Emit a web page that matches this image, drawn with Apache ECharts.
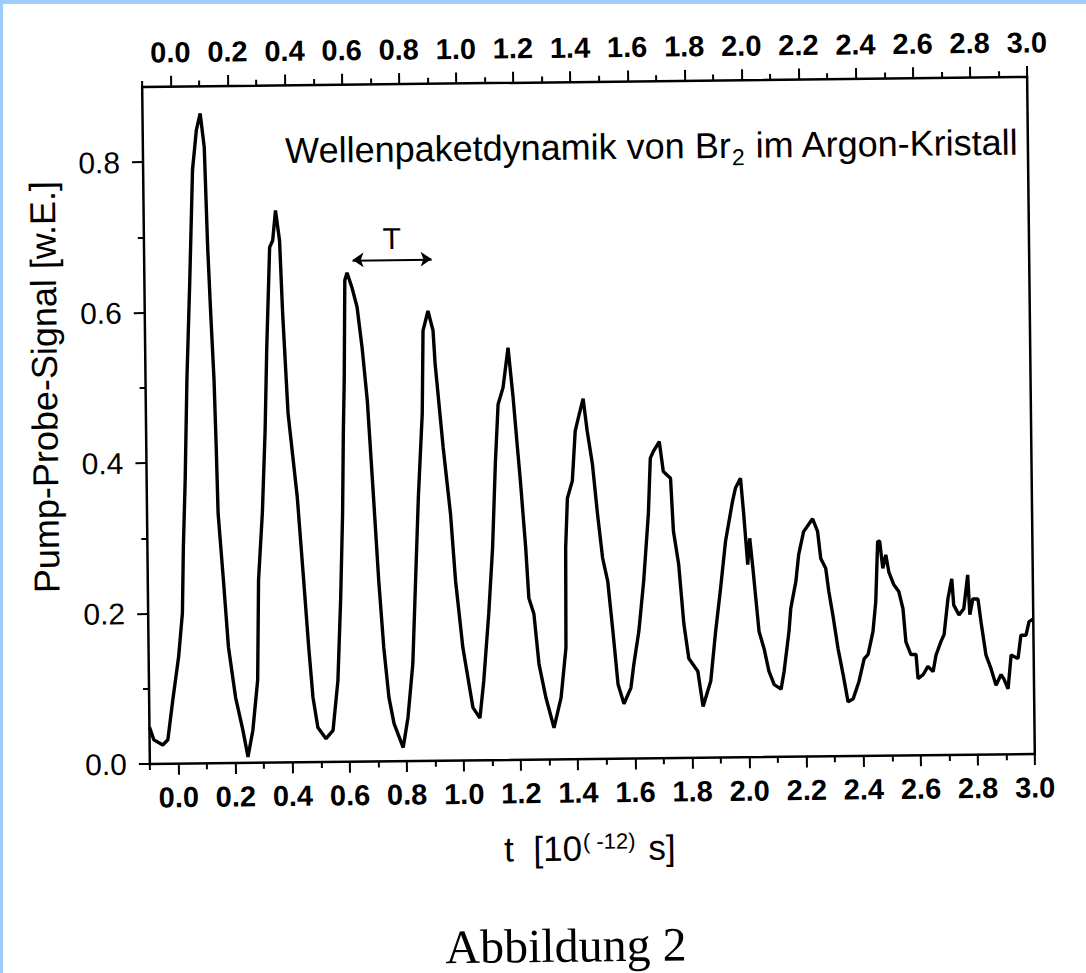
<!DOCTYPE html>
<html>
<head>
<meta charset="utf-8">
<script src="https://cdn.jsdelivr.net/npm/echarts@6/dist/echarts.min.js"></script>
<style>
  html, body { margin: 0; padding: 0; background: #fff; overflow: hidden; }
  /* the scanned page is slightly tilted, so the whole figure is turned a little */
  #chart { position: absolute; left: 0; top: 0; width: 1086px; height: 973px;
           transform: rotate(-0.65deg); transform-origin: 588px 421px; }
  .edge { position: fixed; background: #9ccdfc; z-index: 5; }
</style>
</head>
<body>
<div id="chart"></div>
<div class="edge" style="left:0;top:0;width:1086px;height:4px"></div>
<div class="edge" style="left:0;top:0;width:3px;height:973px"></div>
<script>
// Zeit t in ps (10^-12 s)
const tValues = [
  -0.100, -0.085, -0.054, -0.036, -0.017, 0.005, 0.020, 0.026, 0.035, 0.045,
  0.059, 0.073, 0.088, 0.102, 0.115, 0.123, 0.131, 0.140, 0.145, 0.149,
  0.165, 0.180, 0.203, 0.227, 0.244, 0.262, 0.281, 0.288, 0.304, 0.317,
  0.326, 0.340, 0.351, 0.362, 0.375, 0.383, 0.398, 0.427, 0.446, 0.461,
  0.474, 0.490, 0.518, 0.543, 0.562, 0.575, 0.585, 0.591, 0.596, 0.602,
  0.610, 0.627, 0.644, 0.660, 0.676, 0.694, 0.709, 0.724, 0.740, 0.757,
  0.788, 0.806, 0.825, 0.838, 0.851, 0.868, 0.874, 0.892, 0.909, 0.915,
  0.940, 0.963, 0.978, 1.001, 1.034, 1.058, 1.073, 1.093, 1.109, 1.122,
  1.134, 1.152, 1.171, 1.187, 1.200, 1.209, 1.225, 1.234, 1.251, 1.267,
  1.290, 1.317, 1.343, 1.362, 1.365, 1.373, 1.391, 1.403, 1.414, 1.432,
  1.445, 1.462, 1.478, 1.494, 1.511, 1.527, 1.543, 1.563, 1.588, 1.599,
  1.618, 1.637, 1.656, 1.665, 1.676, 1.697, 1.710, 1.735, 1.743, 1.760,
  1.776, 1.792, 1.823, 1.840, 1.868, 1.887, 1.906, 1.925, 1.951, 1.962,
  1.980, 1.990, 2.002, 2.010, 2.020, 2.029, 2.039, 2.056, 2.072, 2.090,
  2.114, 2.125, 2.144, 2.151, 2.170, 2.181, 2.199, 2.231, 2.248, 2.258,
  2.275, 2.285, 2.298, 2.315, 2.332, 2.348, 2.366, 2.387, 2.406, 2.420,
  2.438, 2.449, 2.458, 2.465, 2.475, 2.486, 2.496, 2.513, 2.530, 2.544,
  2.553, 2.570, 2.588, 2.594, 2.612, 2.629, 2.647, 2.658, 2.676, 2.687,
  2.702, 2.716, 2.722, 2.740, 2.757, 2.772, 2.778, 2.789, 2.807, 2.817,
  2.833, 2.850, 2.867, 2.885, 2.895, 2.909, 2.921, 2.945, 2.956, 2.974,
  2.985, 2.999
]
// Pump-Probe-Signal [w.E.]
const signalValues = [
  0.049, 0.032, 0.025, 0.032, 0.085, 0.142, 0.200, 0.288, 0.377, 0.510,
  0.642, 0.789, 0.842, 0.864, 0.819, 0.686, 0.598, 0.510, 0.420, 0.332,
  0.243, 0.154, 0.087, 0.044, 0.008, 0.043, 0.110, 0.243, 0.332, 0.442,
  0.552, 0.685, 0.694, 0.734, 0.694, 0.597, 0.464, 0.352, 0.242, 0.153,
  0.086, 0.046, 0.031, 0.042, 0.108, 0.218, 0.330, 0.440, 0.507, 0.640,
  0.650, 0.630, 0.604, 0.550, 0.480, 0.351, 0.240, 0.151, 0.085, 0.050,
  0.018, 0.058, 0.129, 0.240, 0.350, 0.462, 0.572, 0.598, 0.572, 0.528,
  0.416, 0.328, 0.239, 0.150, 0.070, 0.056, 0.106, 0.195, 0.282, 0.394,
  0.473, 0.495, 0.548, 0.481, 0.415, 0.371, 0.282, 0.215, 0.194, 0.127,
  0.082, 0.042, 0.082, 0.148, 0.281, 0.347, 0.370, 0.436, 0.453, 0.479,
  0.436, 0.392, 0.325, 0.267, 0.236, 0.170, 0.099, 0.073, 0.094, 0.125,
  0.169, 0.236, 0.325, 0.399, 0.408, 0.421, 0.381, 0.372, 0.302, 0.258,
  0.178, 0.132, 0.115, 0.068, 0.102, 0.168, 0.225, 0.287, 0.340, 0.358,
  0.371, 0.323, 0.256, 0.291, 0.251, 0.211, 0.167, 0.144, 0.114, 0.096,
  0.090, 0.113, 0.167, 0.197, 0.233, 0.269, 0.299, 0.316, 0.299, 0.263,
  0.250, 0.219, 0.188, 0.143, 0.108, 0.072, 0.076, 0.099, 0.129, 0.135,
  0.165, 0.205, 0.285, 0.285, 0.249, 0.267, 0.244, 0.227, 0.218, 0.195,
  0.151, 0.134, 0.134, 0.102, 0.107, 0.118, 0.111, 0.133, 0.151, 0.160,
  0.208, 0.234, 0.199, 0.186, 0.194, 0.239, 0.186, 0.207, 0.207, 0.176,
  0.132, 0.114, 0.092, 0.106, 0.100, 0.087, 0.132, 0.127, 0.158, 0.158,
  0.176, 0.179
]

const xTicks = [0.0, 0.2, 0.4, 0.6, 0.8, 1.0, 1.2, 1.4, 1.6, 1.8, 2.0, 2.2, 2.4, 2.6, 2.8, 3.0]
const xMinorTicks = [-0.1, 0.1, 0.3, 0.5, 0.7, 0.9, 1.1, 1.3, 1.5, 1.7, 1.9, 2.1, 2.3, 2.5, 2.7, 2.9]
const yTicks = [0.0, 0.2, 0.4, 0.6, 0.8]
const yMinorTicks = [0.1, 0.3, 0.5, 0.7]

// Periode T (Pfeil)
const periodStart = 0.63
const periodEnd = 0.907
const periodLevel = 0.667

const sans = 'Liberation Sans, Arial, Helvetica, sans-serif'
const ink = '#000'

const chart = echarts.init(document.getElementById('chart'), null, { renderer: 'svg' })

const grid = { left: 146, top: 82, width: 885, height: 677 }

function xAxisOf (gridIndex, position, ticks, len, labels) {
  return {
    type: 'value',
    gridIndex: gridIndex,
    position: position,
    min: -0.1,
    max: 3.0,
    axisLine: { show: false, onZero: false },
    splitLine: { show: false },
    axisTick: { show: true, customValues: ticks, length: len, lineStyle: { color: ink, width: 2 } },
    axisLabel: {
      show: labels,
      customValues: ticks,
      margin: position === 'top' ? 20 : 19,
      color: ink,
      fontFamily: sans,
      fontWeight: 'bold',
      fontSize: 29,
      formatter: v => v.toFixed(1)
    }
  }
}

function yAxisOf (gridIndex, ticks, len, labels) {
  return {
    type: 'value',
    gridIndex: gridIndex,
    position: 'left',
    min: 0,
    max: 0.9,
    axisLine: { show: false, onZero: false },
    splitLine: { show: false },
    axisTick: { show: true, customValues: ticks, length: len, lineStyle: { color: ink, width: 2 } },
    axisLabel: {
      show: labels,
      customValues: ticks,
      margin: 23,
      color: ink,
      fontFamily: sans,
      fontSize: 30,
      formatter: v => v.toFixed(1)
    }
  }
}

const option = {
  animation: false,
  backgroundColor: 'transparent',
  grid: [
    Object.assign({ show: true, borderColor: ink, borderWidth: 2.5, backgroundColor: 'transparent' }, grid),
    Object.assign({ show: false }, grid)
  ],
  xAxis: [
    xAxisOf(0, 'bottom', xTicks, 11, true),
    xAxisOf(0, 'top', xTicks, 11, true),
    xAxisOf(1, 'bottom', xMinorTicks, 6, false),
    xAxisOf(1, 'top', xMinorTicks, 6, false)
  ],
  yAxis: [
    yAxisOf(0, yTicks, 11, true),
    yAxisOf(1, yMinorTicks, 6, false)
  ],
  graphic: [
    {
      type: 'text',
      x: 655,
      y: 147,
      style: {
        text: 'Wellenpaketdynamik von Br{sub|2} im Argon-Kristall',
        fill: ink,
        font: '36px ' + sans,
        align: 'center',
        verticalAlign: 'middle',
        rich: {
          // the padding on top pushes the index below the baseline
          sub: { fontSize: 23, fontFamily: sans, fill: ink, padding: [24, 0, 0, 1] }
        }
      }
    },
    {
      type: 'text',
      x: 45,
      y: 381,
      rotation: Math.PI / 2,
      style: {
        text: 'Pump-Probe-Signal [w.E.]',
        fill: ink,
        font: '36px ' + sans,
        align: 'center',
        verticalAlign: 'middle'
      }
    },
    {
      type: 'text',
      x: 585,
      y: 848,
      style: {
        text: 't  [10{sup|( -12)} s]',
        fill: ink,
        font: '35px ' + sans,
        align: 'center',
        verticalAlign: 'middle',
        rich: {
          sup: { fontSize: 22, fontFamily: sans, fill: ink, verticalAlign: 'top', padding: [0, 3, 0, 1] }
        }
      }
    },
    {
      type: 'text',
      x: 560,
      y: 945,
      style: {
        text: 'Abbildung 2',
        fill: ink,
        font: '48px Liberation Serif, Times New Roman, serif',
        align: 'center',
        verticalAlign: 'middle'
      }
    }
  ],
  series: [{
    type: 'line',
    xAxisIndex: 0,
    yAxisIndex: 0,
    data: tValues.map((t, i) => [t, signalValues[i]]),
    showSymbol: false,
    smooth: false,
    lineStyle: { color: ink, width: 3.4 },
    markLine: {
      silent: true,
      symbol: ['arrow', 'arrow'],
      symbolSize: 11,
      lineStyle: { color: ink, width: 2, type: 'solid' },
      label: {
        show: true,
        position: 'middle',
        formatter: 'T',
        color: ink,
        fontFamily: sans,
        fontSize: 30,
        distance: 6
      },
      data: [[
        { coord: [periodStart, periodLevel] },
        { coord: [periodEnd, periodLevel] }
      ]]
    }
  }]
}

chart.setOption(option)
</script>
</body>
</html>
